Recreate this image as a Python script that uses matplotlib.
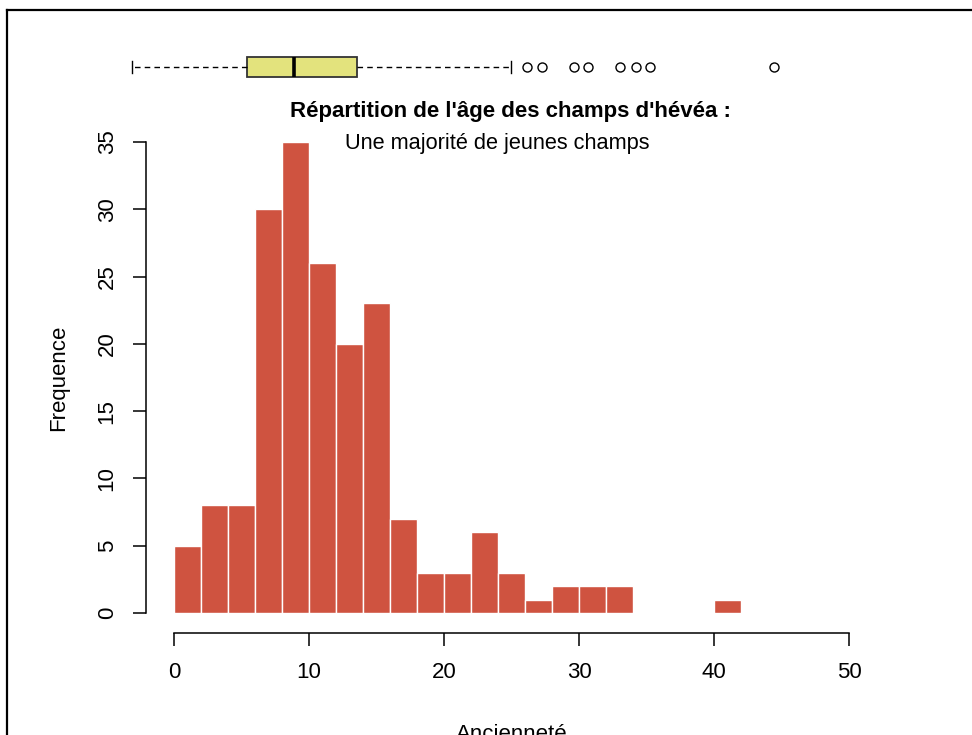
import matplotlib.pyplot as plt
from matplotlib.lines import Line2D
import numpy as np

plt.rcParams['font.family'] = ['Liberation Sans', 'DejaVu Sans']

# histogram: bins of 2 years
bin_edges = np.arange(0, 44, 2)
counts = [5, 8, 8, 30, 35, 26, 20, 23, 7, 3, 3, 6, 3, 1, 2, 2, 2, 0, 0, 0, 1]

# boxplot stats
box_stats = dict(whislo=0.0, q1=7.5, med=10.55, q3=14.65, whishi=24.7,
                 fliers=[25.7, 26.7, 28.8, 29.7, 31.8, 32.8, 33.7, 41.8])

W, H = 972, 735
fig = plt.figure(figsize=(W / 100, H / 100), dpi=100)

# main histogram axes
ax = fig.add_axes([174 / W, (H - 613) / H, 675 / W, 471 / H])
ax.bar(bin_edges[:-1], counts, width=2, align='edge',
       color='#CF5340', edgecolor='white', linewidth=1)
ax.set_xlim(0, 50)
ax.set_ylim(0, 35)
ax.spines['top'].set_visible(False)
ax.spines['right'].set_visible(False)
ax.spines['left'].set_position(('outward', 20))
ax.spines['bottom'].set_position(('outward', 14.5))
ax.spines['left'].set_bounds(0, 35)
ax.spines['bottom'].set_bounds(0, 50)
for s in ('left', 'bottom'):
    ax.spines[s].set_linewidth(1.1)
ax.set_xticks(range(0, 51, 10))
ax.set_yticks(range(0, 36, 5))
ax.tick_params(axis='both', length=9.5, width=1.1, labelsize=16, pad=11)
ax.tick_params(axis='y', labelrotation=90)
for lab in ax.get_yticklabels():
    lab.set_va('center')
ax.set_xlabel('Ancienneté', fontsize=16, labelpad=30)
ax.set_ylabel('Frequence', fontsize=16, labelpad=20)

# title and subtitle
fig.text(510 / W, 1 - 112 / H, "Répartition de l'âge des champs d'hévéa :",
         ha='center', va='center', fontsize=16, fontweight='bold')
fig.text(497 / W, 1 - 143 / H, "Une majorité de jeunes champs",
         ha='center', va='center', fontsize=15.7)

# boxplot on top, own scale
bax = fig.add_axes([106 / W, (H - 87) / H, 697 / W, 40 / H])
bax.bxp([box_stats], vert=False, widths=0.5, capwidths=0.28, patch_artist=True,
        boxprops=dict(facecolor='#E3E37D', edgecolor='#333333', linewidth=1.3),
        whiskerprops=dict(color='black', linestyle=(0, (4, 3)), linewidth=1),
        capprops=dict(color='black', linewidth=1),
        medianprops=dict(color='black', linewidth=2.6),
        flierprops=dict(marker='o', markerfacecolor='none', markeredgecolor='black',
                        markersize=6.5, markeredgewidth=1))
bax.set_xlim(-1.68, 43.68)
bax.set_ylim(0.5, 1.5)
bax.axis('off')

# screenshot frame (top and left edges)
fig.add_artist(Line2D([7 / W, 1], [1 - 10 / H, 1 - 10 / H], color='black', linewidth=1.6))
fig.add_artist(Line2D([7 / W, 7 / W], [0, 1 - 10 / H], color='black', linewidth=1.6))

fig.savefig('out.png', dpi=100)
